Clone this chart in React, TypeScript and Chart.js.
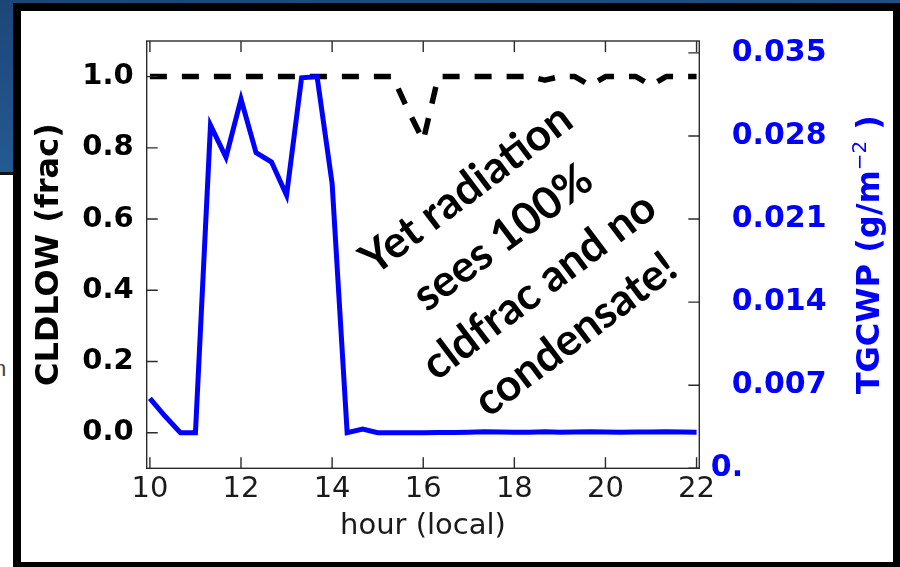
import React, { useEffect, useRef } from "react";
import { Chart, registerables } from "chart.js";

Chart.register(...registerables);

// ---- data ----
const hours = [
  10, 10.33, 10.67, 11, 11.33, 11.67, 12, 12.33, 12.67, 13, 13.33, 13.67, 14,
  14.33, 14.67, 15, 15.33, 15.67, 16, 16.33, 16.67, 17, 17.33, 17.67, 18, 18.33,
  18.67, 19, 19.33, 19.67, 20, 20.33, 20.67, 21, 21.33, 21.67, 22,
];

// CLDLOW (frac), left axis, dashed black
const cldlow = [
  1, 1, 1, 1, 1, 1, 1, 1, 1, 1, 1, 1, 1, 1, 1, 1, 1, 0.905, 0.82, 1, 1, 1, 1, 1,
  1, 1, 0.99, 1, 1, 0.975, 1, 1, 1, 0.975, 1, 1, 1,
];

// TGCWP (g/m^-2), right axis, solid blue
const tgcwp = [
  0.0059, 0.0044, 0.003, 0.003, 0.0289, 0.0262, 0.0311, 0.0266, 0.0258, 0.023,
  0.0329, 0.033, 0.024, 0.003, 0.0033, 0.003, 0.003, 0.003, 0.003, 0.00301,
  0.00302, 0.00304, 0.00308, 0.00305, 0.00303, 0.00304, 0.00307, 0.00303,
  0.00305, 0.00308, 0.00306, 0.00304, 0.00305, 0.00306, 0.00308, 0.00305,
  0.00304,
];

const xTicks = [10, 12, 14, 16, 18, 20, 22];
const leftTicks = [0, 0.2, 0.4, 0.6, 0.8, 1.0];
const rightTicks = [0, 0.007, 0.014, 0.021, 0.028, 0.035];
const annotationLines = ["Yet radiation", "sees 100%", "cldfrac and no", "condensate!"];

const FONT = "'DejaVu Sans', 'Liberation Sans', sans-serif";
const rightLabel = (v: number) => (v === 0 ? "0." : v.toFixed(3));

const framePlugin = {
  id: "frameAndNotes",
  afterDatasetsDraw(chart: any) {
    const { ctx, chartArea: a, scales } = chart;
    ctx.save();
    ctx.strokeStyle = "#2b2b2b";
    ctx.lineWidth = 1.4;
    ctx.strokeRect(a.left, a.top, a.right - a.left, a.bottom - a.top);
    const L = 11;
    ctx.beginPath();
    xTicks.forEach((v) => {
      const px = scales.x.getPixelForValue(v);
      ctx.moveTo(px, a.bottom);
      ctx.lineTo(px, a.bottom - L);
      ctx.moveTo(px, a.top);
      ctx.lineTo(px, a.top + L);
    });
    leftTicks.forEach((v) => {
      const py = scales.y.getPixelForValue(v);
      ctx.moveTo(a.left, py);
      ctx.lineTo(a.left + L, py);
    });
    rightTicks.forEach((v) => {
      const py = scales.y2.getPixelForValue(v);
      ctx.moveTo(a.right, py);
      ctx.lineTo(a.right - L, py);
    });
    ctx.stroke();
    ctx.restore();
  },
  afterDraw(chart: any) {
    const { ctx, chartArea: a, scales } = chart;

    // the zero label of the right axis sits closer to the spine
    ctx.save();
    ctx.fillStyle = "#0000ff";
    ctx.font = `bold 30px ${FONT}`;
    ctx.textAlign = "left";
    ctx.textBaseline = "middle";
    ctx.fillText(rightLabel(rightTicks[0]), a.right + 11.5, scales.y2.getPixelForValue(rightTicks[0]));
    ctx.restore();

    // right axis title with superscript, reading bottom-to-top
    ctx.save();
    ctx.translate(867, (a.top + a.bottom) / 2);
    ctx.rotate(-Math.PI / 2);
    ctx.fillStyle = "#0000ff";
    ctx.textBaseline = "alphabetic";
    ctx.textAlign = "left";
    const mainFont = `bold 32px ${FONT}`;
    const supFont = `20px ${FONT}`;
    const main = "TGCWP (g/m";
    const sup = "\u22122";
    const tail = " )";
    ctx.font = mainFont;
    const wMain = ctx.measureText(main).width;
    const wTail = ctx.measureText(tail).width;
    ctx.font = supFont;
    const wSup = ctx.measureText(sup).width;
    const total = wMain + wSup + wTail;
    let x0 = -total / 2;
    const base = 11.7;
    ctx.font = mainFont;
    ctx.fillText(main, x0, base);
    x0 += wMain;
    ctx.font = supFont;
    ctx.fillText(sup, x0, base - 13);
    x0 += wSup;
    ctx.font = mainFont;
    ctx.fillText(tail, x0, base);
    ctx.restore();

    // rotated annotation
    ctx.save();
    ctx.translate(521, 262);
    ctx.rotate((-37 * Math.PI) / 180);
    ctx.fillStyle = "#000";
    ctx.textAlign = "center";
    ctx.textBaseline = "middle";
    const family = "Lato, 'Open Sans', sans-serif";
    ctx.font = `bold 48px ${family}`;
    const w = ctx.measureText(annotationLines[0]).width;
    const size = (48 * 252) / w;
    ctx.font = `bold ${size.toFixed(1)}px ${family}`;
    const spacing = 60.6;
    annotationLines.forEach((line, i) => {
      ctx.fillText(line, 0, (i - (annotationLines.length - 1) / 2) * spacing);
    });
    ctx.restore();
  },
};

export default function App() {
  const ref = useRef<HTMLCanvasElement | null>(null);

  useEffect(() => {
    if (!ref.current) return;
    const chart = new Chart(ref.current, {
      type: "line",
      data: {
        datasets: [
          {
            label: "CLDLOW",
            data: hours.map((h, i) => ({ x: h, y: cldlow[i] })),
            yAxisID: "y",
            borderColor: "#000000",
            borderWidth: 5.5,
            borderDash: [17, 15],
            borderCapStyle: "butt",
            borderJoinStyle: "round",
            pointRadius: 0,
            tension: 0,
            fill: false,
            order: 2,
          },
          {
            label: "TGCWP",
            data: hours.map((h, i) => ({ x: h, y: tgcwp[i] })),
            yAxisID: "y2",
            borderColor: "#0000ff",
            borderWidth: 5,
            borderJoinStyle: "miter",
            pointRadius: 0,
            tension: 0,
            fill: false,
            order: 1,
          },
        ],
      },
      options: {
        animation: false,
        responsive: false,
        devicePixelRatio: 1,
        layout: { padding: { top: 41, left: 0, right: 0, bottom: 0 } },
        plugins: { legend: { display: false }, tooltip: { enabled: false } },
        scales: {
          x: {
            type: "linear",
            min: 9.93,
            max: 22.06,
            grid: { display: false, drawTicks: true, tickLength: 4 },
            border: { display: false },
            afterBuildTicks: (s: any) => {
              s.ticks = xTicks.map((v) => ({ value: v }));
            },
            afterFit: (s: any) => {
              s.height = 98.7;
            },
            ticks: {
              font: { family: FONT, size: 29 },
              color: "#1a1a1a",
              padding: 0,
              maxRotation: 0,
              autoSkip: false,
              callback: (v: any) => String(v),
            },
            title: {
              display: true,
              text: "hour (local)",
              font: { family: FONT, size: 29 },
              color: "#1a1a1a",
              padding: { top: 0, bottom: 23.5 },
            },
          },
          y: {
            type: "linear",
            position: "left",
            min: -0.1,
            max: 1.1,
            grid: { display: false, drawTicks: true, tickLength: 13 },
            border: { display: false },
            afterBuildTicks: (s: any) => {
              s.ticks = leftTicks.map((v) => ({ value: v }));
            },
            afterFit: (s: any) => {
              s.width = 146.7;
            },
            ticks: {
              font: { family: FONT, size: 29, weight: "bold" },
              color: "#000000",
              padding: 0,
              autoSkip: false,
              callback: (v: any) => Number(v).toFixed(1),
            },
            title: {
              display: true,
              text: "CLDLOW (frac)",
              font: { family: FONT, size: 32, weight: "bold" },
              color: "#000000",
              padding: { top: 30.8, bottom: 0 },
            },
          },
          y2: {
            type: "linear",
            position: "right",
            min: 0,
            max: 0.036,
            grid: { display: false, drawTicks: true, tickLength: 32.4 },
            border: { display: false },
            afterBuildTicks: (s: any) => {
              s.ticks = rightTicks.map((v) => ({ value: v }));
            },
            afterFit: (s: any) => {
              s.width = 200.7;
            },
            ticks: {
              font: { family: FONT, size: 30, weight: "bold" },
              color: "#0000ff",
              padding: 0,
              autoSkip: false,
              // zero label is drawn by the plugin, nearer the spine
              callback: (v: any) => (Number(v) === 0 ? "" : rightLabel(Number(v))),
            },
          },
        },
      } as any,
      plugins: [framePlugin as any],
    });
    return () => chart.destroy();
  }, []);

  const abs = (s: React.CSSProperties): React.CSSProperties => ({ position: "absolute", ...s });

  return (
    <div
      style={{
        position: "fixed",
        left: 0,
        top: 0,
        width: 900,
        height: 567,
        background: "#ffffff",
        overflow: "hidden",
      }}
    >
      {/* slide background pieces */}
      <div style={abs({ left: 0, top: 0, width: 900, height: 11, background: "linear-gradient(90deg,#1d4677,#1f4f86)" })} />
      <div style={abs({ left: 0, top: 0, width: 21, height: 175, background: "linear-gradient(180deg,#1d4677,#245a93)" })} />
      <div style={abs({ left: 0, top: 172, width: 13, height: 3, background: "#111" })} />
      <div style={abs({ left: -6, top: 356, color: "#444", fontFamily: "Liberation Sans, sans-serif", fontSize: 22 })}>n</div>
      <div style={abs({ left: 13, top: 3, width: 887, height: 8, background: "#000" })} />
      <div style={abs({ left: 13, top: 3, width: 8, height: 564, background: "#000" })} />
      <div style={abs({ left: 893, top: 3, width: 7, height: 564, background: "#000" })} />
      <div style={abs({ left: 13, top: 562, width: 887, height: 5, background: "#000" })} />
      <canvas
        ref={ref}
        width={900}
        height={567}
        style={{ position: "absolute", left: 0, top: 0, width: 900, height: 567 }}
      />
    </div>
  );
}
